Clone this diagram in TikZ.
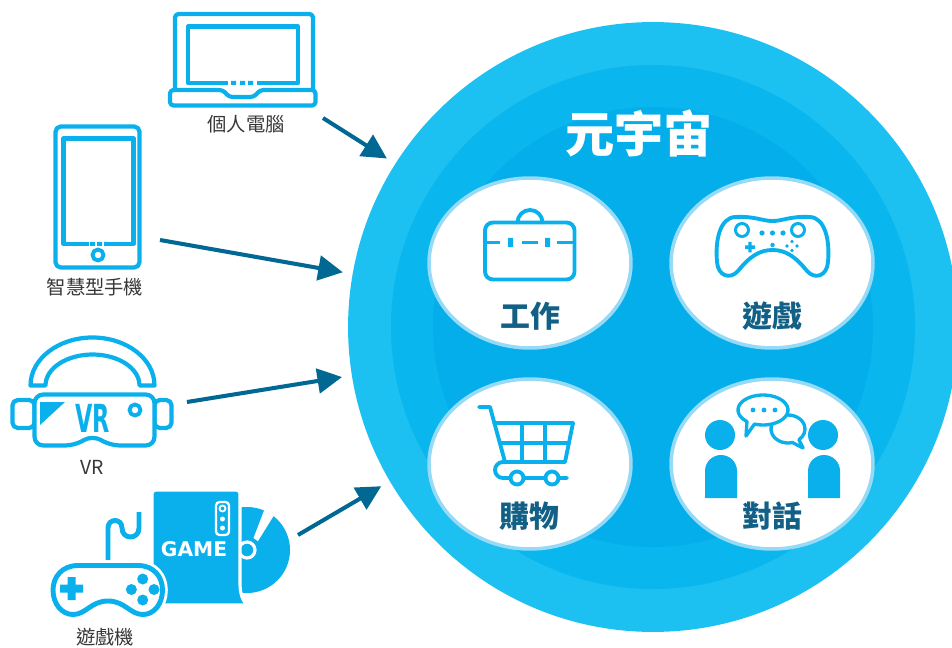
\documentclass[tikz,border=0pt]{standalone}
\usepackage{fontspec}
\usepackage{graphicx}
\usepackage{xcolor}
\usepackage{tikz}
\usetikzlibrary{arrows.meta,shapes.geometric}

\newfontfamily\cjk{Noto Sans CJK TC}
\newfontfamily\vrfont{DejaVu Sans}
\newfontfamily\gamefont{DejaVu Sans}

\definecolor{ringout}{RGB}{28,192,241}
\definecolor{ringmid}{RGB}{9,182,238}
\definecolor{ringin}{RGB}{3,174,235}
\definecolor{hubedge}{RGB}{150,218,246}
\definecolor{hubtext}{RGB}{18,96,134}
\definecolor{devblue}{RGB}{10,176,236}
\definecolor{feedblue}{RGB}{0,104,146}
\definecolor{labelgray}{RGB}{55,55,55}

\begin{document}
\begin{tikzpicture}[x=0.02cm, y=-0.02cm,
    hub/.style={ellipse, fill=white, draw=hubedge, line width=2pt, minimum width=4.04cm, minimum height=3.4cm, inner sep=0pt},
    hublabel/.style={font=\cjk\bfseries\fontsize{17}{17}\selectfont, text=hubtext},
    devlabel/.style={font=\cjk\fontsize{11}{11}\selectfont, text=labelgray},
    dev/.style={draw=devblue, line width=2.4pt, line join=round},
    icon/.style={draw=devblue, line width=2.2pt, line join=round, line cap=round},
    feed/.style={-{Triangle[length=14pt, width=14pt]}, draw=feedblue, line width=2.3pt}
]
\useasboundingbox (0,0) rectangle (952,648);

% the metaverse disc
\node[circle, fill=ringout, minimum size=12.2cm, inner sep=0pt, outer sep=5.7pt] (meta) at (653,327) {};
\fill[ringmid] (meta.center) circle[radius=262];
\fill[ringin] (meta.center) circle[radius=220];
\node[font=\cjk\bfseries\fontsize{28}{28}\selectfont, text=white] (title) at (639,133) {元宇宙};

\node[hub] (work) at (530,263) {};
\node[hub] (play) at (772,263) {};
\node[hub] (shop) at (530,464) {};
\node[hub] (talk) at (772,464) {};
\node[hublabel] (worklabel) at (530,316) {工作};
\node[hublabel] (playlabel) at (772,316) {遊戲};
\node[hublabel] (shoplabel) at (529,516) {購物};
\node[hublabel] (talklabel) at (772,516) {對話};

% briefcase
\draw[icon, rounded corners=4.5pt] (485,222.5) rectangle (574.5,279.5);
\draw[icon] (517.5,222.5) arc[start angle=180, end angle=360, radius=12.5];
\draw[icon, line cap=butt] (485,242.5) -- (500,242.5) (522,242.5) -- (538,242.5) (557,242.5) -- (574.5,242.5);
\fill[devblue] (508,238) rectangle (513,247) (545,238) rectangle (550,247);

% gamepad
\draw[icon] (735,217) .. controls (755,216) and (762,221) .. (772.5,221)
    .. controls (783,221) and (790,216) .. (810,217)
    .. controls (825,218) and (830,240) .. (828,262)
    .. controls (827,276) and (815,280) .. (807,271)
    .. controls (795,256) and (785,250) .. (772.5,250)
    .. controls (760,250) and (750,256) .. (738,271)
    .. controls (730,280) and (718,276) .. (717,262)
    .. controls (715,240) and (720,218) .. (735,217) -- cycle;
\draw[icon, line width=1.7pt] (742,230) circle[radius=6.5] (798,230) circle[radius=6.5];
\fill[devblue] (762,233) circle[radius=2.6] (772.5,233) circle[radius=2.6] (783,233) circle[radius=2.6]
    (772.5,245) circle[radius=2.2];
\fill[devblue] (792,241.5) circle[radius=1.9] (787,246) circle[radius=1.9] (797,246) circle[radius=1.9] (792,250.5) circle[radius=1.9];
\fill[devblue] (745,245.5) rectangle (755,249) (748.3,242) rectangle (751.7,252.5);

% cart
\draw[icon] (479,407) -- (490,407) -- (505,462);
\draw[icon] (494.4,423) -- (573,423) -- (565,462) -- (505,462) -- (503,462)
    arc[start angle=270, end angle=90, radius=8] -- (567,478);
\draw[icon] (522,423) -- (522,462) (545,423) -- (545,462) (499.8,443) -- (568.9,443);
\draw[icon, fill=white] (517,478) circle[radius=6.5] (552,478) circle[radius=6.5];

% two people talking
\fill[devblue] (720,435) circle[radius=15] (823,435) circle[radius=15];
\fill[devblue] (705,498) -- (705,471) arc[start angle=180, end angle=360, radius=16] -- (737,498) -- cycle;
\fill[devblue] (808,498) -- (808,471) arc[start angle=180, end angle=360, radius=16] -- (840,498) -- cycle;
\draw[icon, line width=1.9pt, fill=white] (788,429) ++(75:17 and 14) arc[start angle=75, end angle=410, x radius=17, y radius=14] -- (803,448) -- cycle;
\draw[icon, line width=1.9pt, fill=white] (763,410) ++(130:25 and 15) arc[start angle=130, end angle=470, x radius=25, y radius=15] -- (746,436) -- cycle;
\fill[devblue] (753,410) circle[radius=2.4] (764,410) circle[radius=2.4] (775,410) circle[radius=2.4];

% laptop
\draw[dev, rounded corners=2pt] (175,90) -- (175,14) -- (313,14) -- (313,90);
\draw[dev, rounded corners=2pt] (170,90) -- (223,90) -- (229,97) -- (254,97) -- (260,90) -- (315.5,90) -- (315.5,105.5) -- (170,105.5) -- cycle;
\draw[dev] (228,83) -- (188,83) -- (188,26.5) -- (298,26.5) -- (298,83) -- (257,83);
\fill[devblue] (231,81) rectangle (236,85) (240,81) rectangle (245,85) (248,81) rectangle (253,85);
\node[devlabel] (pclabel) at (246,124) {個人電腦};

% phone
\draw[dev, rounded corners=3pt] (55.5,126.5) rectangle (139.5,267.5);
\draw[dev] (89,244) -- (63.5,244) -- (63.5,138.5) -- (133.5,138.5) -- (133.5,244) -- (108,244);
\fill[devblue] (90,242) rectangle (95,246) (97,242) rectangle (102,246) (104,242) rectangle (108,246);
\draw[dev, line width=2.2pt] (98,255) circle[radius=5.5];
\node[devlabel] (phonelabel) at (95,287) {智慧型手機};

% vr headset
\draw[dev] (30.5,385.5) arc[start angle=180, end angle=360, x radius=62, y radius=48]
    -- (139.5,385.5) arc[start angle=0, end angle=-180, x radius=47, y radius=31] -- cycle;
\draw[dev, rounded corners=3pt] (12.5,400) rectangle (34.5,428);
\draw[dev, rounded corners=3pt] (154.5,400) rectangle (171.5,428);
\draw[dev, fill=white, rounded corners=5pt] (34.5,394.5) -- (154.5,394.5) -- (154.5,445.5) -- (111,445.5)
    -- (92.5,435.5) -- (74,445.5) -- (34.5,445.5) -- cycle;
\fill[devblue] (40,402) -- (65,402) -- (40,425) -- cycle;
\draw[dev, line width=2.2pt] (135,410) circle[radius=5.5];
\node[font=\vrfont\bfseries\fontsize{22}{22}\selectfont, text=devblue] (vrmark) at (92.5,418) {\scalebox{0.58}[1]{VR}};
\node[devlabel] (vrlabel) at (92,467) {VR};

% console, disc and pad
\fill[devblue] (247,550) circle[radius=43];
\fill[white] (257.9,541.2) -- (276,512) -- (265,508) -- (253.5,538) -- cycle;
\draw[white, line width=1.8pt] (247,550) circle[radius=8];
\filldraw[fill=devblue, draw=white, line width=1.8pt, rounded corners=2pt] (152,605) -- (152,490) -- (240,490) -- (240,580)
    .. controls (240,594) and (243,600) .. (247,605) -- cycle;
\draw[white, line width=1.3pt, rounded corners=2pt] (216,502) rectangle (229,535);
\draw[white, line width=1pt] (222.5,508.5) circle[radius=3];
\fill[white] (222.5,519) circle[radius=2.5] (222.5,528) circle[radius=2.5];
\node[font=\gamefont\bfseries\fontsize{11.5}{11.5}\selectfont, text=white] (gamemark) at (194,549) {GAME};
\draw[dev, line width=2.8pt] (108,566) -- (108,528) .. controls (108,518) and (122,518) .. (122,528)
    .. controls (122,540) and (139,540) .. (139,528) -- (139,512);
\draw[dev, line width=2.8pt, fill=white, preaction={draw=white, line width=6pt}]
    (78,565.5) -- (138,565.5) .. controls (154,565.5) and (162.5,577) .. (162.5,590)
    .. controls (162.5,604) and (154,614.5) .. (143,614.5)
    .. controls (130,614.5) and (125,601) .. (108,601)
    .. controls (91,601) and (86,614.5) .. (73,614.5)
    .. controls (62,614.5) and (53,604) .. (53,590)
    .. controls (53,577) and (62,565.5) .. (78,565.5) -- cycle;
\fill[devblue] (67.5,577) rectangle (75.5,600) (60,584.5) rectangle (83,592.5);
\fill[devblue] (142.7,579) circle[radius=5.5] (154,589.5) circle[radius=5.5] (142.7,600) circle[radius=5.5] (131.4,589.5) circle[radius=5.5];
\node[devlabel] (consolelabel) at (105,637) {遊戲機};

% arrows into the disc
\coordinate (pcfoot) at (323,118);
\coordinate (phonefoot) at (160,240);
\coordinate (vrfoot) at (187,402);
\coordinate (consolefoot) at (298,535);
\draw[feed] (pcfoot) -- (meta);
\draw[feed] (phonefoot) -- (meta);
\draw[feed] (vrfoot) -- (meta);
\draw[feed] (consolefoot) -- (meta);
\end{tikzpicture}
\end{document}
